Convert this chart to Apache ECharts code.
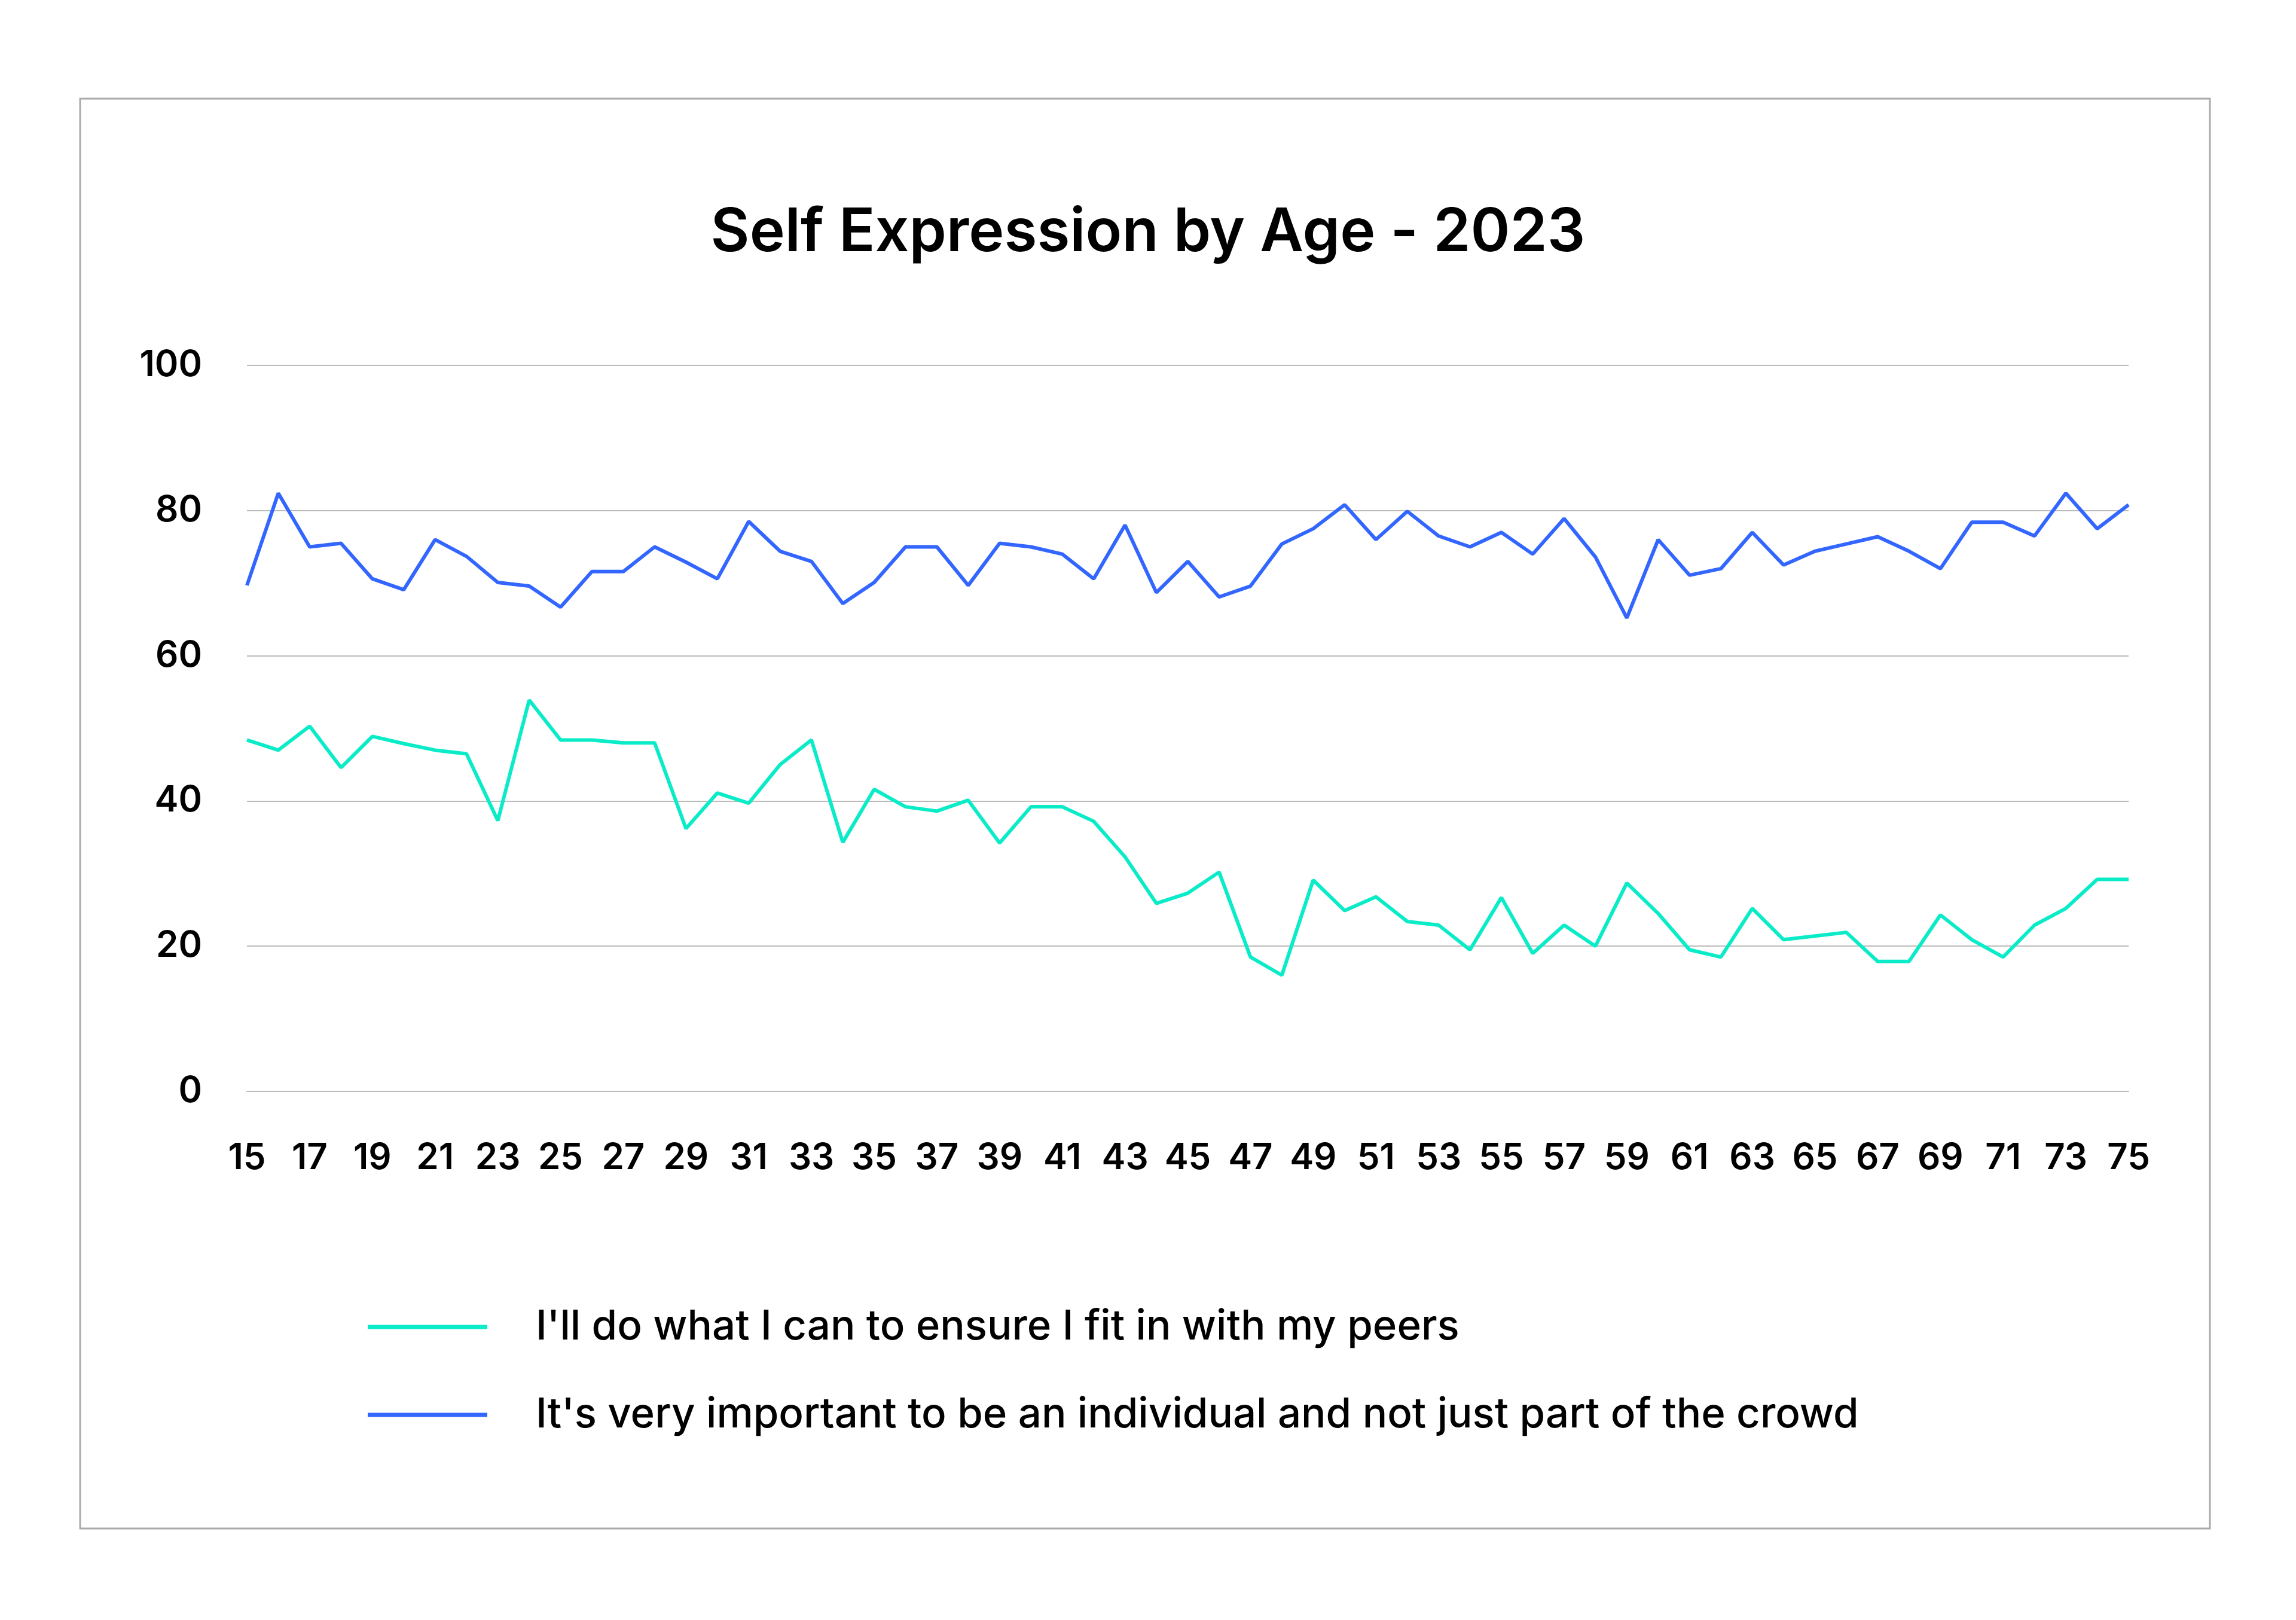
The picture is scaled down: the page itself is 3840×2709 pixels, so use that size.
<!DOCTYPE html>
<html>
<head>
<meta charset="utf-8">
<script src="https://cdn.jsdelivr.net/npm/echarts@6/dist/echarts.min.js"></script>
<style>
  html, body { margin: 0; padding: 0; background: #fff; }
  #main { width: 3840px; height: 2709px; }
</style>
</head>
<body>
<div id="main"></div>
<script>
// ages 15..75
var ages = [];
for (var a = 15; a <= 75; a++) ages.push(String(a));

var fitIn = [48.4, 47.0, 50.3, 44.6, 48.9, 47.9, 47.0, 46.5, 37.3, 53.9,
             48.4, 48.4, 48.0, 48.0, 36.2, 41.1, 39.7, 45.0, 48.4, 34.3,
             41.6, 39.2, 38.6, 40.1, 34.2, 39.2, 39.2, 37.2, 32.3, 25.9,
             27.3, 30.2, 18.5, 16.0, 29.1, 24.9, 26.8, 23.4, 22.9, 19.5,
             26.7, 19.0, 22.9, 20.0, 28.7, 24.5, 19.5, 18.5, 25.2, 20.9,
             21.4, 21.9, 17.9, 17.9, 24.3, 20.9, 18.5, 22.9, 25.2, 29.2,
             29.2];

var individual = [69.7, 82.4, 75.0, 75.5, 70.6, 69.1, 76.0, 73.7, 70.1, 69.6,
                  66.7, 71.6, 71.6, 75.0, 72.9, 70.6, 78.5, 74.4, 73.0, 67.2,
                  70.1, 75.0, 75.0, 69.7, 75.5, 75.0, 74.0, 70.6, 78.0, 68.7,
                  73.0, 68.1, 69.6, 75.4, 77.5, 80.8, 76.0, 79.9, 76.5, 75.0,
                  77.0, 74.0, 78.9, 73.6, 65.2, 76.0, 71.1, 72.0, 77.0, 72.5,
                  74.4, 75.4, 76.4, 74.4, 72.0, 78.4, 78.4, 76.5, 82.4, 77.5,
                  80.8];

var seriesNames = ["I'll do what I can to ensure I fit in with my peers",
                   "It's very important to be an individual and not just part of the crowd"];

var font = 'Inter';
var myChart = echarts.init(document.getElementById('main'));

var option = {
  backgroundColor: '#fff',
  animation: false,
  title: {
    text: 'Self Expression by Age - 2023',
    left: 'center',
    top: 335,
    textStyle: { fontFamily: font, fontSize: 100, fontWeight: 600, color: '#000' }
  },
  graphic: [{
    type: 'rect',
    shape: { x: 134, y: 165, width: 3562, height: 2391 },
    style: { fill: 'none', stroke: '#aaaaaa', lineWidth: 3 }
  }],
  legend: {
    orient: 'vertical',
    left: 610,
    top: 2172,
    itemWidth: 200,
    itemHeight: 7,
    itemGap: 63,
    icon: 'rect',
    data: seriesNames,
    textStyle: { fontFamily: font, fontSize: 69, fontWeight: 500, color: '#000',
                 lineHeight: 84, padding: [0, 0, 0, 76] }
  },
  grid: { left: 413, right: 280, top: 611, bottom: 884, containLabel: false },
  xAxis: {
    type: 'category',
    data: ages,
    boundaryGap: false,
    axisTick: { show: false },
    axisLine: { show: true, lineStyle: { color: '#bbbbbb', width: 2 } },
    axisLabel: { interval: 1, margin: 82, fontFamily: font, fontSize: 60, fontWeight: 600, color: '#000' }
  },
  yAxis: {
    type: 'value',
    min: 0, max: 100, interval: 20,
    axisLine: { show: false },
    axisTick: { show: false },
    splitLine: { lineStyle: { color: '#bbbbbb', width: 2 } },
    axisLabel: { margin: 75, fontFamily: font, fontSize: 60, fontWeight: 600, color: '#000' }
  },
  series: [{
    name: seriesNames[0],
    type: 'line',
    data: fitIn,
    showSymbol: false,
    color: '#0AEBC8',
    lineStyle: { width: 6, color: '#0AEBC8' }
  }, {
    name: seriesNames[1],
    type: 'line',
    data: individual,
    showSymbol: false,
    color: '#3366FF',
    lineStyle: { width: 6, color: '#3366FF' }
  }]
};

myChart.setOption(option);
</script>
</body>
</html>
